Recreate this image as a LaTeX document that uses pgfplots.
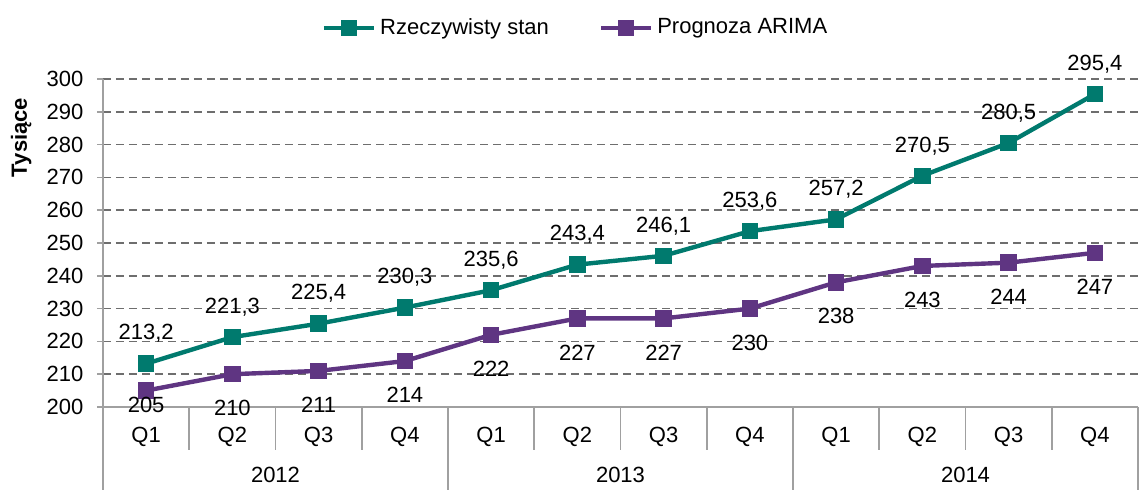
\documentclass[border=0pt]{standalone}
\usepackage{pgfplots}
\pgfplotsset{compat=1.18}
\usepackage{pgfplotstable}
\usepackage{fontspec}
\setmainfont{Liberation Sans}
\definecolor{teal1}{RGB}{0,122,110}
\definecolor{purp}{RGB}{95,53,130}
\definecolor{axgray}{RGB}{160,160,160}
\definecolor{gridgray}{RGB}{110,110,110}
\newcommand{\fs}{\fontsize{11}{13.2}\selectfont}

\pgfplotstableread{
x y lab
0 213.2 213,2
1 221.3 221,3
2 225.4 225,4
3 230.3 230,3
4 235.6 235,6
5 243.4 243,4
6 246.1 246,1
7 253.6 253,6
8 257.2 257,2
9 270.5 270,5
10 280.5 280,5
11 295.4 295,4
}\actual

\pgfplotstableread{
x y lab dy
0 205 205 -7
1 210 210 -17
2 211 211 -17
3 214 214 -17
4 222 222 -17
5 227 227 -17
6 227 227 -17
7 230 230 -17
8 238 238 -17
9 243 243 -17
10 244 244 -17
11 247 247 -17
}\arima

\begin{document}
\fs
\begin{tikzpicture}
\useasboundingbox (-51.5pt,-41.5pt) rectangle (519pt,203.5pt);
\begin{axis}[
  at={(0,0)}, anchor=south west,
  scale only axis, width=517.5pt, height=164pt,
  xmin=-0.5, xmax=11.5, ymin=200, ymax=300,
  axis x line*=bottom, axis y line*=left,
  axis line style={axgray, line width=0.8pt},
  ytick={200,210,...,300},
  ymajorgrids,
  grid style={gridgray, line width=0.8pt, dash pattern=on 4pt off 2.5pt},
  tick align=outside,
  major tick length=3pt,
  ytick style={axgray, line width=0.8pt},
  xtick={0,...,11},
  xticklabels={Q1,Q2,Q3,Q4,Q1,Q2,Q3,Q4,Q1,Q2,Q3,Q4},
  major x tick style={draw=none},
  minor xtick={0.5,1.5,...,10.5},
  minor tick length=21.5pt,
  minor x tick style={axgray, line width=0.8pt},
  xticklabel style={yshift=-3pt},
  yticklabel style={xshift=-3pt},
  tick label style={font=\fs},
  /pgf/number format/assume math mode=true,
  ylabel={Tysiące},
  ylabel style={font=\fs\bfseries, at={(ticklabel cs:0.84)}, xshift=-3pt},
  clip=false,
  legend style={at={(0.5,1)}, anchor=center, xshift=-22pt, yshift=25.5pt, draw=none, fill=none,
    legend columns=2, font=\fs,
    /tikz/every even column/.append style={column sep=23pt}},
  legend cell align=left,
  legend image code/.code={
    \draw[line width=2.2pt, #1, mark repeat=2, mark phase=2] plot coordinates {(0pt,0pt) (12.5pt,0pt) (25pt,0pt)};
  },
]
\addplot[teal1, line width=2.2pt, mark=square*, mark size=3pt,
  nodes near coords, point meta=explicit symbolic,
  nodes near coords style={anchor=center, yshift=15pt, text=black, font=\fs}]
  table[x=x, y=y, meta=lab] {\actual};
\addlegendentry{Rzeczywisty stan}
\addplot[purp, line width=2.2pt, mark=square*, mark size=3pt,
  nodes near coords, point meta=explicit symbolic,
  visualization depends on={\thisrow{dy} \as \dy},
  nodes near coords style={anchor=center, yshift=\dy pt, text=black, font=\fs}]
  table[x=x, y=y, meta=lab] {\arima};
\addlegendentry{Prognoza ARIMA}
\pgfplotsinvokeforeach{-0.5,3.5,7.5,11.5}{
  \draw[axgray, line width=0.8pt] (axis cs:#1,200) -- ([yshift=-41.5pt]axis cs:#1,200);
}
\node[font=\fs] at ([yshift=-34pt]axis cs:1.5,200) {2012};
\node[font=\fs] at ([yshift=-34pt]axis cs:5.5,200) {2013};
\node[font=\fs] at ([yshift=-34pt]axis cs:9.5,200) {2014};
\end{axis}
\end{tikzpicture}
\end{document}
